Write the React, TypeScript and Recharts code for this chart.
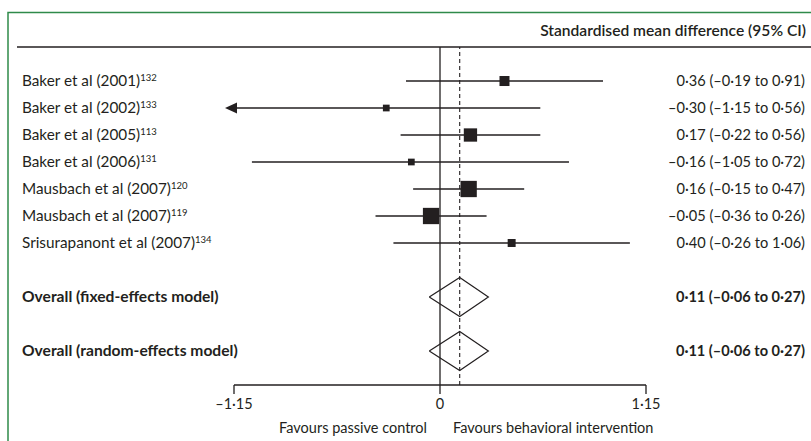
import React from 'react';
import { ComposedChart, XAxis, YAxis, Line, Scatter, ReferenceLine } from 'recharts';

// individual trials
const studies = [
  'Baker et al (2001)',
  'Baker et al (2002)',
  'Baker et al (2005)',
  'Baker et al (2006)',
  'Mausbach et al (2007)',
  'Mausbach et al (2007)',
  'Srisurapanont et al (2007)',
];
const refs = ['132', '133', '113', '131', '120', '119', '134'];
const smd = [0.36, -0.3, 0.17, -0.16, 0.16, -0.05, 0.4];
const ciLow = [-0.19, -1.15, -0.22, -1.05, -0.15, -0.36, -0.26];
const ciHigh = [0.91, 0.56, 0.56, 0.72, 0.47, 0.26, 1.06];
const weights = [10.4, 4.7, 18.4, 4.7, 27.6, 27.6, 6.6]; // relative weight (%), sets box area

// pooled estimates
const pooledLabels = ['Overall (fixed-effects model)', 'Overall (random-effects model)'];
const pooledSmd = [0.11, 0.11];
const pooledLow = [-0.06, -0.06];
const pooledHigh = [0.27, 0.27];

const studyRows = [0, 1, 2, 3, 4, 5, 6];
const pooledRows = [8, 10];
const xTicks = [-1.15, 0, 1.15];

const W = 811;
const H = 441;
const INK = '#231f20';
const GREEN = '#2f8a4a';
const FONT = 'Lato, "Open Sans", sans-serif';
const FS = 14.5;
const X_MIN = -1.15;
const X_MAX = 1.15;
const Y_DOMAIN = [-1.26, 11.26];
const DIAMOND_H = 0.72;

const fmt = (v: number) => (v < 0 ? '–' : '') + Math.abs(v).toFixed(2).replace('.', '·');
const fmtTick = (v: number) => (v === 0 ? '0' : fmt(v));

type RowInfo = { label: string; ref: string; text: string; bold: boolean };
const rowInfo: Record<number, RowInfo> = {};
studyRows.forEach((r, i) => {
  rowInfo[r] = {
    label: studies[i],
    ref: refs[i],
    text: `${fmt(smd[i])} (${fmt(ciLow[i])} to ${fmt(ciHigh[i])})`,
    bold: false,
  };
});
pooledRows.forEach((r, j) => {
  rowInfo[r] = {
    label: pooledLabels[j],
    ref: '',
    text: `${fmt(pooledSmd[j])} (${fmt(pooledLow[j])} to ${fmt(pooledHigh[j])})`,
    bold: true,
  };
});
const rowTicks = [...studyRows, ...pooledRows];

const boxes = studyRows.map((r, i) => ({ x: smd[i], y: r, w: weights[i] }));

function LeftTick({ y, payload }: any) {
  const r = rowInfo[payload.value];
  if (!r) return <g />;
  return (
    <text
      x={22}
      y={y}
      dy="0.35em"
      fontSize={r.bold ? 15.6 : 15.3}
      fontWeight={r.bold ? 700 : 400}
      fill={INK}
      fontFamily={FONT}
    >
      {r.label}
      {r.ref && (
        <tspan dy={-5} fontSize={9.5}>
          {r.ref}
        </tspan>
      )}
    </text>
  );
}

function RightTick({ y, payload }: any) {
  const r = rowInfo[payload.value];
  if (!r) return <g />;
  return (
    <text x={805} y={y} dy="0.35em" textAnchor="end" fontSize={14.6} fontWeight={r.bold ? 700 : 400} fill={INK} fontFamily={FONT}>
      {r.text}
    </text>
  );
}

const Box = ({ cx, cy, payload }: any) => {
  const s = 3.1 * Math.sqrt(payload.w);
  return <rect x={cx - s / 2} y={cy - s / 2} width={s} height={s} fill={INK} />;
};

const arrowDot = (p: any) =>
  p.index === 0 ? (
    <path key={`arr-${p.index}`} d={`M${p.cx + 3},${p.cy - 5.5} L${p.cx - 9},${p.cy} L${p.cx + 3},${p.cy + 5.5} Z`} fill={INK} />
  ) : (
    <g key={`arr-${p.index}`} />
  );

export default function App() {
  return (
    <div style={{ position: 'absolute', left: 0, top: 0, width: W, height: H, background: '#fff' }}>
      <ComposedChart width={W} height={H} margin={{ top: 47, right: 0, bottom: 0, left: 0 }}>
        <XAxis
          type="number"
          dataKey="x"
          domain={[X_MIN, X_MAX]}
          ticks={xTicks}
          tickFormatter={fmtTick}
          height={56}
          tickSize={9}
          tickMargin={5}
          axisLine={{ stroke: INK, strokeWidth: 1.3 }}
          tickLine={{ stroke: INK, strokeWidth: 1.3 }}
          tick={{ fill: INK, fontSize: FS, fontFamily: FONT }}
        />
        <YAxis
          yAxisId="left"
          type="number"
          dataKey="y"
          domain={Y_DOMAIN}
          reversed
          ticks={rowTicks}
          interval={0}
          width={234}
          axisLine={false}
          tickLine={false}
          tick={<LeftTick />}
        />
        <YAxis
          yAxisId="right"
          orientation="right"
          type="number"
          dataKey="y"
          domain={Y_DOMAIN}
          reversed
          allowDataOverflow
          ticks={rowTicks}
          interval={0}
          width={165}
          axisLine={false}
          tickLine={false}
          tick={<RightTick />}
        />
        <ReferenceLine yAxisId="left" x={0} stroke={INK} strokeWidth={1.3} />
        <ReferenceLine yAxisId="left" x={pooledSmd[0]} stroke={INK} strokeWidth={1.1} strokeDasharray="4 3" />

        {studyRows.map((r, i) => (
          <Line
            key={`ci-${i}`}
            yAxisId="left"
            type="linear"
            dataKey="y"
            data={[
              { x: Math.max(ciLow[i], X_MIN), y: r },
              { x: Math.min(ciHigh[i], X_MAX), y: r },
            ]}
            stroke={INK}
            strokeWidth={1.3}
            dot={ciLow[i] <= X_MIN ? arrowDot : false}
            activeDot={false}
            isAnimationActive={false}
          />
        ))}

        {pooledRows.map((r, j) => (
          <Line
            key={`dia-${j}`}
            yAxisId="left"
            type="linear"
            dataKey="y"
            data={[
              { x: pooledLow[j], y: r },
              { x: pooledSmd[j], y: r - DIAMOND_H },
              { x: pooledHigh[j], y: r },
              { x: pooledSmd[j], y: r + DIAMOND_H },
              { x: pooledLow[j], y: r },
            ]}
            stroke={INK}
            strokeWidth={1.2}
            dot={false}
            activeDot={false}
            isAnimationActive={false}
          />
        ))}

        <Scatter yAxisId="left" data={boxes} shape={<Box />} isAnimationActive={false} />
      </ComposedChart>

      <svg width={W} height={H} style={{ position: 'absolute', left: 0, top: 0, pointerEvents: 'none' }}>
        <path d={`M8,${H} L8,12.5 L${W},12.5`} fill="none" stroke={GREEN} strokeWidth={1.5} />
        <line x1={17} x2={W} y1={47} y2={47} stroke={INK} strokeWidth={1.6} />
        <text x={806} y={36} textAnchor="end" fontSize={15.6} fontWeight={600} fill={INK} fontFamily={FONT}>
          Standardised mean difference (95% CI)
        </text>
        <text x={427} y={433} textAnchor="end" fontSize={FS} fill={INK} fontFamily={FONT}>
          Favours passive control
        </text>
        <text x={453} y={433} fontSize={FS} fill={INK} fontFamily={FONT}>
          Favours behavioral intervention
        </text>
      </svg>
    </div>
  );
}
